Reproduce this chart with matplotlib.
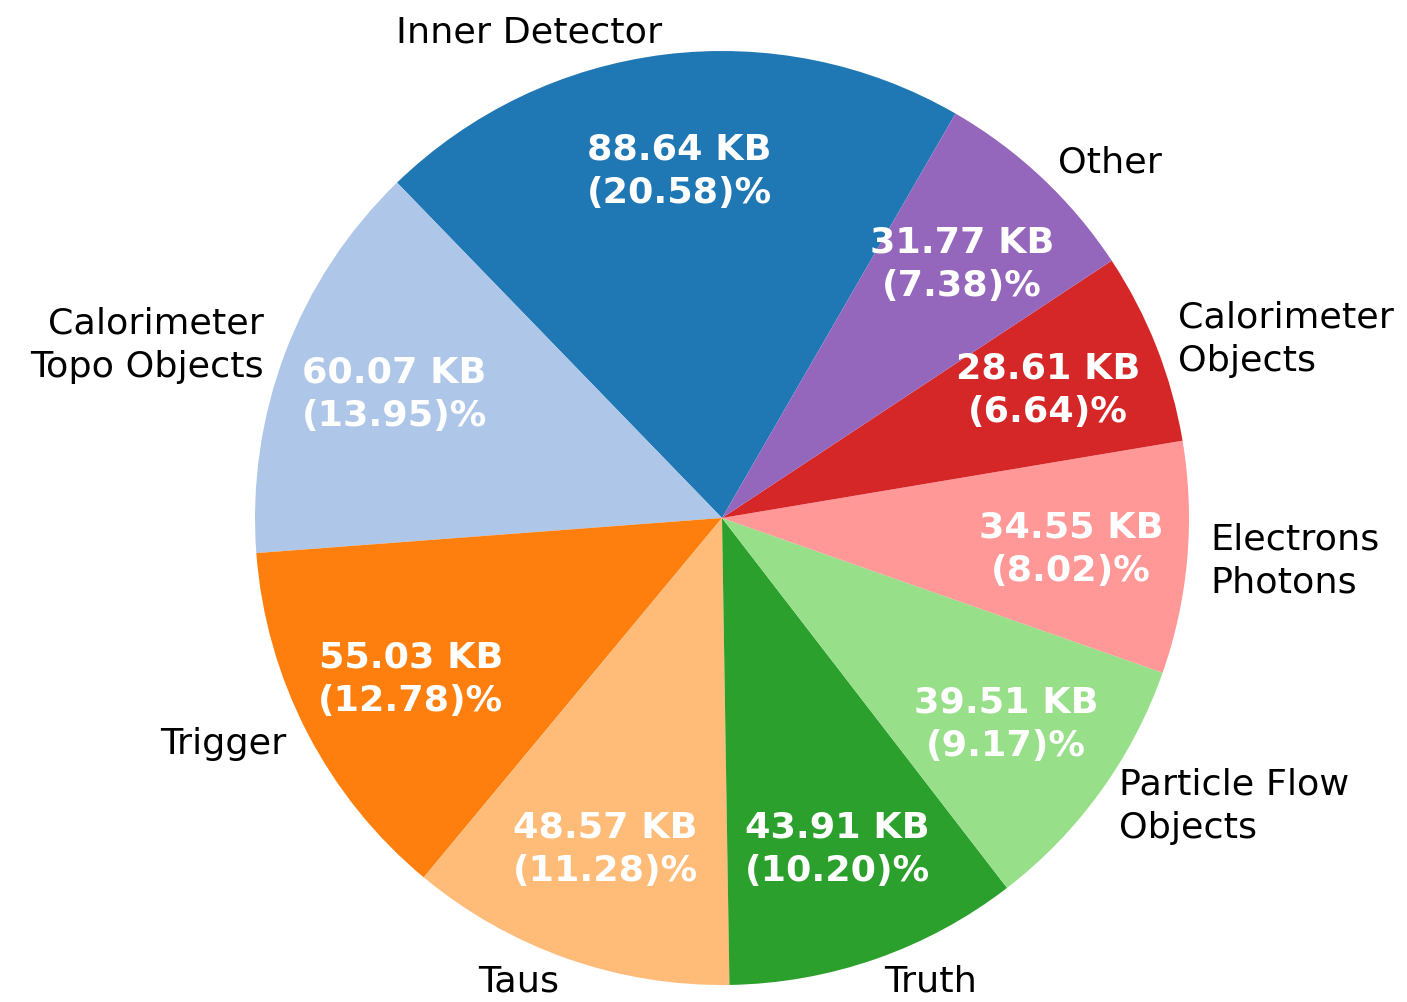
import numpy as np
import matplotlib
matplotlib.use("Agg")
import matplotlib.pyplot as plt

labels = ['Inner Detector', 'Calorimeter\nTopo Objects', 'Trigger', 'Taus', 'Truth',
          'Particle Flow\nObjects', 'Electrons\nPhotons', 'Calorimeter\nObjects', 'Other']
sizes_kb = [88.64, 60.07, 55.03, 48.57, 43.91, 39.51, 34.55, 28.61, 31.77]
color_idx = [0, 1, 2, 3, 4, 5, 7, 6, 8]

cmap = plt.get_cmap('tab20')
colors = [cmap(i) for i in color_idx]

total = sum(sizes_kb)


def fmt(pct):
    val = pct * total / 100.0
    return '{:.2f} KB\n({:.2f})%'.format(val, pct)


fig = plt.figure(figsize=(1407 / 250, 1003 / 250), dpi=250)
# pie centre at (722, 519) px, radius 467 px
r = 467
side = 2.5 * r
ax = fig.add_axes([(722 - side / 2) / 1407, (1003 - 519 - side / 2) / 1003,
                   side / 1407, side / 1003])
wedges, texts, autotexts = ax.pie(sizes_kb, labels=labels, colors=colors,
                                  autopct=fmt, startangle=60, pctdistance=0.75,
                                  labeldistance=1.05,
                                  textprops={'fontsize': 10.5})
for t in texts:
    t.set_linespacing(1.35)
for t in autotexts:
    t.set_color('white')
    t.set_fontweight('bold')
    t.set_linespacing(1.35)
ax.set_aspect('equal')

fig.savefig('out.png', dpi=250)
